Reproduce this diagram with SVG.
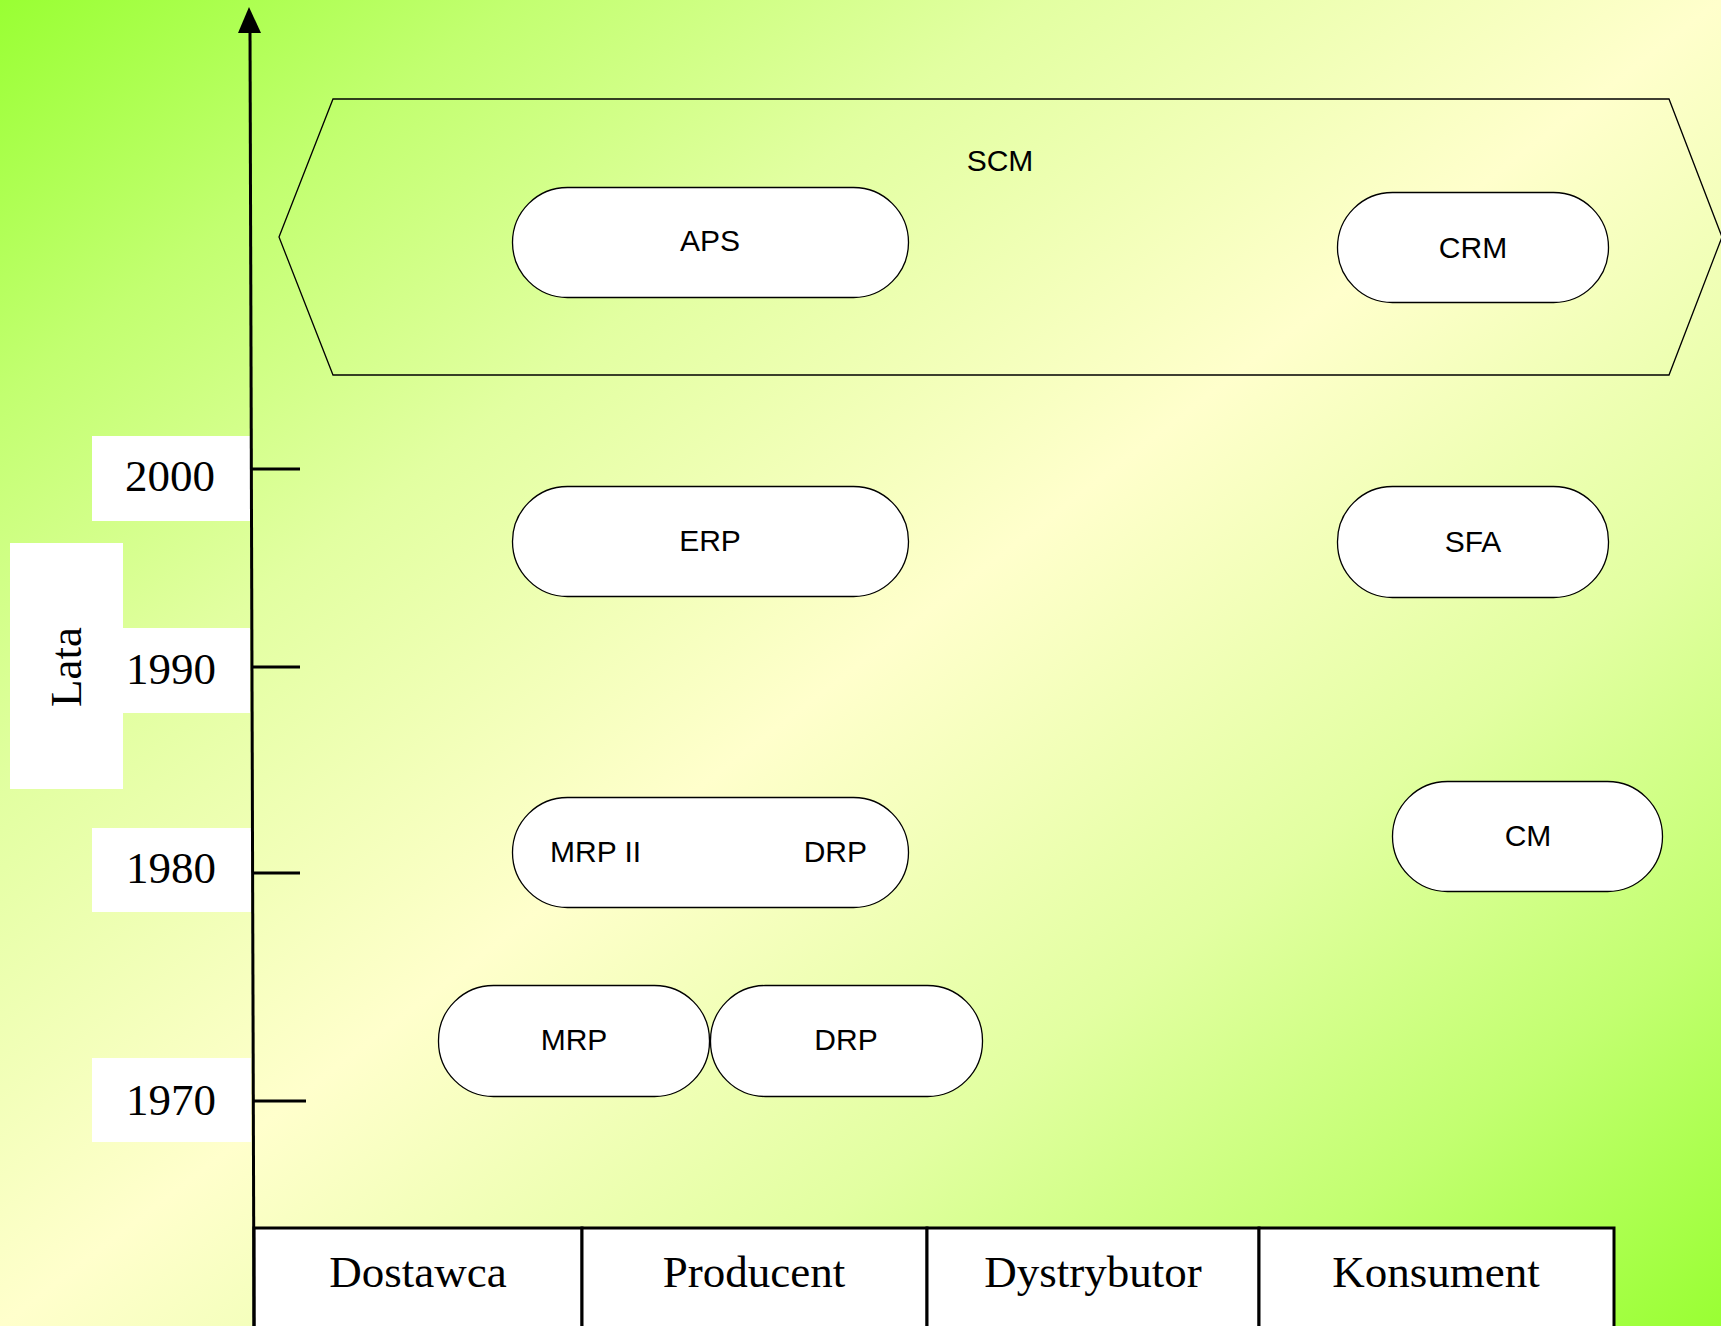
<svg xmlns="http://www.w3.org/2000/svg" width="1721" height="1326" viewBox="0 0 1721 1326">
<defs>
<linearGradient id="bg" x1="0" y1="0" x2="1" y2="1">
<stop offset="0" stop-color="#99FF33"/>
<stop offset="0.15" stop-color="#C2FF70"/>
<stop offset="0.3" stop-color="#E2FFA1"/>
<stop offset="0.5" stop-color="#FFFFCC"/>
<stop offset="0.7" stop-color="#E2FFA1"/>
<stop offset="0.85" stop-color="#C2FF70"/>
<stop offset="1" stop-color="#99FF33"/>
</linearGradient>
<style>
.pill{fill:#fff;stroke:#000;stroke-width:1.3}
.sans{font-family:"Liberation Sans",Arial,sans-serif;font-size:30px;fill:#000}
.serif{font-family:"Liberation Serif","Times New Roman",serif;font-size:45px;fill:#000}
.wbox{fill:#fff;stroke:none}
.tick{stroke:#000;stroke-width:3}
.cell{fill:#fff;stroke:#000;stroke-width:3}
</style>
</defs>
<rect x="0" y="0" width="1721" height="1326" fill="url(#bg)"/>

<g id="scm">
<polygon points="333,99 1669,99 1722,237 1669,375 333,375 279,237" fill="none" stroke="#000" stroke-width="1.3"/>
<text class="sans" x="1000" y="171" text-anchor="middle">SCM</text>
</g>

<g id="aps"><rect class="pill" x="512.5" y="187.5" width="396" height="110" rx="55" ry="55"/><text class="sans" x="710" y="251" text-anchor="middle">APS</text></g>
<g id="crm"><rect class="pill" x="1337.5" y="192.5" width="271" height="110" rx="55" ry="55"/><text class="sans" x="1473" y="258" text-anchor="middle">CRM</text></g>
<g id="erp"><rect class="pill" x="512.5" y="486.5" width="396" height="110" rx="55" ry="55"/><text class="sans" x="710" y="551" text-anchor="middle">ERP</text></g>
<g id="sfa"><rect class="pill" x="1337.5" y="486.5" width="271" height="111" rx="55" ry="55"/><text class="sans" x="1473" y="552" text-anchor="middle">SFA</text></g>
<g id="cm"><rect class="pill" x="1392.5" y="781.5" width="270" height="110" rx="55" ry="55"/><text class="sans" x="1528" y="846" text-anchor="middle">CM</text></g>
<g id="mrp2-drp"><rect class="pill" x="512.5" y="797.5" width="396" height="110" rx="55" ry="55"/><text class="sans" x="550" y="862">MRP II</text><text class="sans" x="867" y="862" text-anchor="end">DRP</text></g>
<g id="mrp"><rect class="pill" x="438.5" y="985.5" width="271" height="111" rx="55" ry="55"/><text class="sans" x="574" y="1050" text-anchor="middle">MRP</text></g>
<g id="drp"><rect class="pill" x="710.5" y="985.5" width="272" height="111" rx="55" ry="55"/><text class="sans" x="846" y="1050" text-anchor="middle">DRP</text></g>

<g id="lata"><rect class="wbox" x="10" y="543" width="113" height="246"/><text class="serif" transform="translate(81,667) rotate(-90)" text-anchor="middle">Lata</text></g>
<g id="y2000"><rect class="wbox" x="92" y="436" width="158" height="85"/><text class="serif" x="170" y="491" text-anchor="middle">2000</text></g>
<g id="y1990"><rect class="wbox" x="123" y="628" width="127" height="85"/><text class="serif" x="171" y="684" text-anchor="middle">1990</text></g>
<g id="y1980"><rect class="wbox" x="92" y="828" width="159" height="84"/><text class="serif" x="171" y="883" text-anchor="middle">1980</text></g>
<g id="y1970"><rect class="wbox" x="92" y="1058" width="159" height="84"/><text class="serif" x="171" y="1115" text-anchor="middle">1970</text></g>

<g id="table">
<rect class="cell" x="254" y="1228" width="328" height="110"/>
<rect class="cell" x="582" y="1228" width="345" height="110"/>
<rect class="cell" x="927" y="1228" width="332" height="110"/>
<rect class="cell" x="1259" y="1228" width="355" height="110"/>
<text class="serif" x="418" y="1287" text-anchor="middle">Dostawca</text>
<text class="serif" x="754" y="1287" text-anchor="middle">Producent</text>
<text class="serif" x="1093" y="1287" text-anchor="middle">Dystrybutor</text>
<text class="serif" x="1436" y="1287" text-anchor="middle">Konsument</text>
</g>

<g id="connectors">
<line x1="254" y1="1326" x2="250" y2="30" stroke="#000" stroke-width="3"/>
<polygon points="249,7 238,33 261,33" fill="#000"/>
<line class="tick" x1="251" y1="469" x2="300" y2="469"/>
<line class="tick" x1="251" y1="667" x2="300" y2="667"/>
<line class="tick" x1="252" y1="873" x2="300" y2="873"/>
<line class="tick" x1="253" y1="1101" x2="306" y2="1101"/>
</g>
</svg>
